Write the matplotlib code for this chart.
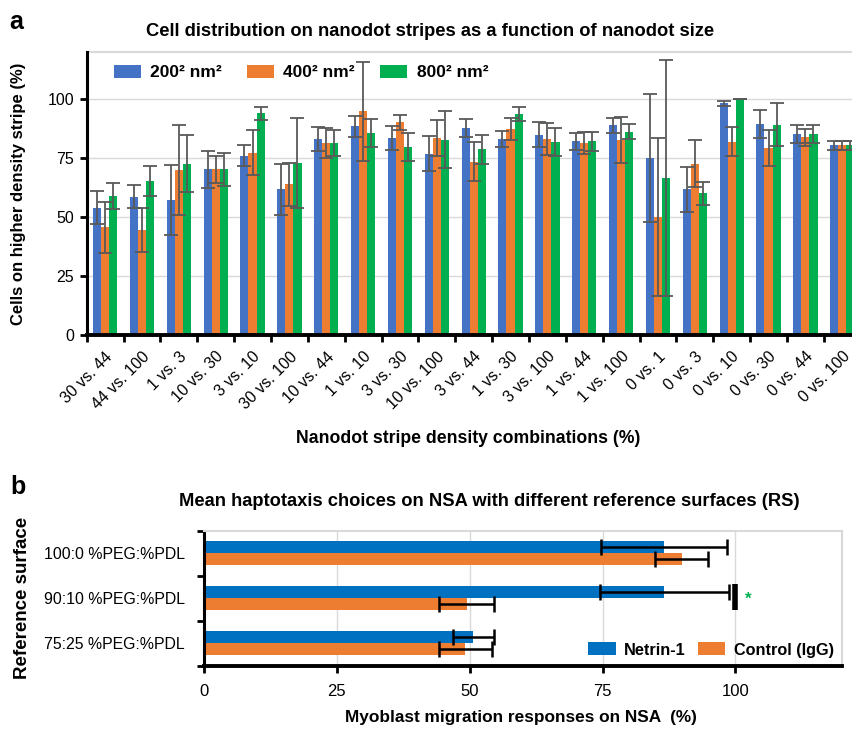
import numpy as np
import matplotlib
matplotlib.use("Agg")
import matplotlib.pyplot as plt

plt.rcParams["font.family"] = ["Liberation Sans", "DejaVu Sans"]

# panel a: nanodot stripe assays
combos = ["30 vs. 44", "44 vs. 100", "1 vs. 3", "10 vs. 30", "3 vs. 10", "30 vs. 100",
          "10 vs. 44", "1 vs. 10", "3 vs. 30", "10 vs. 100", "3 vs. 44", "1 vs. 30",
          "3 vs. 100", "1 vs. 44", "1 vs. 100", "0 vs. 1", "0 vs. 3", "0 vs. 10",
          "0 vs. 30", "0 vs. 44", "0 vs. 100"]
sizes = ["200² nm²", "400² nm²", "800² nm²"]
mean_200 = [53.9, 58.7, 57.1, 70.2, 76.0, 61.7, 83.0, 88.5, 83.5, 76.9, 87.8,
            83.2, 84.8, 82.2, 88.9, 75.0, 61.7, 98.2, 89.5, 85.1, 80.4]
err_200 = [7.0, 4.8, 14.8, 7.8, 4.4, 10.7, 5.0, 4.5, 5.0, 7.5, 3.7,
           3.3, 5.3, 3.6, 3.1, 27.3, 9.5, 1.1, 5.8, 3.8, 1.8]
mean_400 = [45.6, 44.6, 69.9, 70.2, 77.3, 63.9, 81.5, 94.9, 90.1, 83.4, 73.4,
            87.2, 83.0, 81.5, 82.8, 49.9, 72.6, 82.0, 79.3, 83.9, 80.4]
err_400 = [11.0, 9.4, 19.0, 5.9, 9.6, 9.1, 6.4, 21.0, 3.1, 7.7, 8.3,
           4.7, 6.8, 4.6, 9.8, 33.5, 9.9, 6.2, 7.8, 3.6, 1.8]
mean_800 = [59.0, 65.2, 72.7, 70.2, 94.0, 72.9, 81.5, 85.6, 79.7, 82.8, 78.7,
            93.7, 82.0, 82.2, 86.2, 66.6, 60.0, 100.0, 89.2, 85.4, 80.4]
err_800 = [5.5, 6.4, 12.0, 7.1, 2.7, 18.9, 5.4, 5.9, 5.8, 12.2, 6.1,
           3.0, 5.9, 4.0, 3.2, 50.0, 4.8, 0.0, 9.2, 3.8, 1.8]

# panel b: haptotaxis on NSA
surfaces = ["100:0 %PEG:%PDL", "90:10 %PEG:%PDL", "75:25 %PEG:%PDL"]
treatments = ["Netrin-1", "Control (IgG)"]
netrin = [86.6, 86.6, 50.7]
netrin_err = [11.9, 12.1, 3.9]
control = [89.9, 49.4, 49.2]
control_err = [5.0, 5.1, 5.0]
sig_surface = 1      # 90:10 differs significantly
sig_x = 100

colors_a = ["#4472C4", "#ED7D31", "#00B050"]
colors_b = ["#0070C0", "#ED7D31"]
grid_c = "#D9D9D9"

fig = plt.figure(figsize=(8.53, 7.30), dpi=100)

# ---------------- panel a ----------------
ax = fig.add_axes([0.1016, 0.5411, 0.9074, 0.3877])
x = np.arange(len(combos))
w = 0.22
for i, (m, e) in enumerate([(mean_200, err_200), (mean_400, err_400), (mean_800, err_800)]):
    ax.bar(x + (i - 1) * w, m, w, color=colors_a[i], label=sizes[i], zorder=2)
    ax.errorbar(x + (i - 1) * w, m, yerr=e, fmt="none", ecolor="#595959",
                elinewidth=1.3, capsize=5, capthick=1.3, zorder=3)

ax.set_xlim(-0.5, len(combos) - 0.5)
ax.set_ylim(0, 120)
ax.set_yticks([0, 25, 50, 75, 100])
ax.yaxis.grid(True, color=grid_c, lw=1, zorder=0)
ax.set_axisbelow(True)
ax.axhline(120, color=grid_c, lw=1.5, clip_on=False)
for s in ["top", "right"]:
    ax.spines[s].set_visible(False)
ax.spines["left"].set_linewidth(2.2)
ax.spines["bottom"].set_linewidth(2.8)
ax.tick_params(axis="y", direction="out", length=5, width=2, labelsize=11.5, pad=4)
ax.set_xticks(x)
ax.set_xticklabels(combos, rotation=45, ha="right", rotation_mode="anchor", fontsize=11.5)
ax.tick_params(axis="x", length=0, pad=10)
ax.set_xticks(np.arange(-0.5, len(combos) + 0.5), minor=True)
ax.tick_params(axis="x", which="minor", direction="out", length=5, width=2)
ax.set_ylabel("Cells on higher density stripe (%)", fontsize=12, fontweight="bold")
ax.yaxis.set_label_coords(-0.079, 0.5)
ax.set_xlabel("Nanodot stripe density combinations (%)", fontsize=12.7, fontweight="bold")
ax.xaxis.set_label_coords(0.493, -0.336)

ax.legend(loc="upper left", bbox_to_anchor=(0.018, 1.0), ncol=3, frameon=False,
          prop={"weight": "bold", "size": 12.5}, handlelength=1.55, handleheight=0.75,
          handletextpad=0.55, columnspacing=1.45, borderaxespad=0.35)

fig.text(430 / 853, 1 - 31 / 730, "Cell distribution on nanodot stripes as a function of nanodot size",
         ha="center", va="center", fontsize=13.2, fontweight="bold")
fig.text(9 / 853, 1 - 22 / 730, "a", ha="left", va="center", fontsize=18, fontweight="bold")

# ---------------- panel b ----------------
bx = fig.add_axes([0.2392, 0.0881, 0.7476, 0.1849])
y = np.arange(len(surfaces))[::-1]
h = 0.267
bx.barh(y + h / 2, netrin, h, color=colors_b[0], label=treatments[0], zorder=2)
bx.barh(y - h / 2, control, h, color=colors_b[1], label=treatments[1], zorder=2)
bx.errorbar(netrin, y + h / 2, xerr=netrin_err, fmt="none", ecolor="black",
            elinewidth=1.8, capsize=6, capthick=1.8, zorder=3)
bx.errorbar(control, y - h / 2, xerr=control_err, fmt="none", ecolor="black",
            elinewidth=1.8, capsize=6, capthick=1.8, zorder=3)

# significance marker
ys = y[sig_surface]
bx.plot([sig_x, sig_x], [ys - 0.27, ys + 0.31], color="black", lw=4, solid_capstyle="butt", zorder=3)
bx.annotate("*", (sig_x, ys), xytext=(7, -1), textcoords="offset points",
            color="#00B050", fontsize=12, fontweight="bold", ha="left", va="center")

bx.set_xlim(0, 120)
bx.set_ylim(-0.5, len(surfaces) - 0.5)
bx.set_xticks([0, 25, 50, 75, 100])
bx.xaxis.grid(True, color=grid_c, lw=1, zorder=0)
bx.set_axisbelow(True)
bx.set_yticks(y)
bx.set_yticklabels(surfaces, fontsize=11.4)
bx.tick_params(axis="y", length=0, pad=14)
bx.set_yticks(np.arange(-0.5, len(surfaces)), minor=True)
bx.tick_params(axis="y", which="minor", direction="out", length=5, width=2)
bx.tick_params(axis="x", direction="out", length=5, width=2, labelsize=12, pad=8)
for s in ["top", "right"]:
    bx.spines[s].set_color(grid_c)
    bx.spines[s].set_linewidth(1.5)
bx.spines["left"].set_linewidth(2.2)
bx.spines["bottom"].set_linewidth(2.8)
bx.set_xlabel("Myoblast migration responses on NSA  (%)", fontsize=12.4, fontweight="bold")
bx.xaxis.set_label_coords(0.497, -0.33)
bx.set_ylabel("Reference surface", fontsize=13.5, fontweight="bold")
bx.yaxis.set_label_coords(-0.272, 0.5)

bx.legend(loc="lower right", ncol=2, frameon=False, prop={"weight": "bold", "size": 11.7},
          handlelength=1.7, handleheight=0.85, handletextpad=0.5, columnspacing=0.75,
          borderaxespad=0.1)

fig.text(489 / 853, 1 - 502 / 730, "Mean haptotaxis choices on NSA with different reference surfaces (RS)",
         ha="center", va="center", fontsize=13.2, fontweight="bold")
fig.text(10 / 853, 1 - 487 / 730, "b", ha="left", va="center", fontsize=18, fontweight="bold")

fig.savefig("out.png", dpi=100)
